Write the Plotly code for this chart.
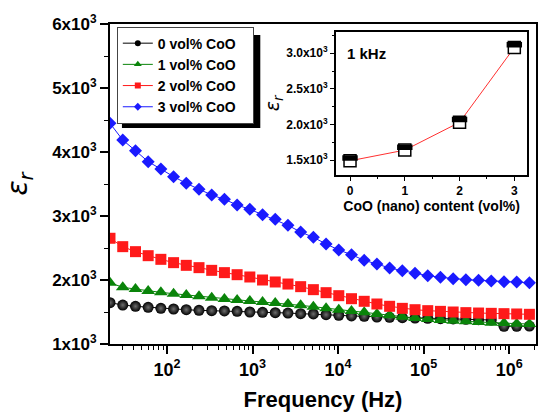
import plotly.graph_objects as go

# ---------------- data ----------------
freq_hz = [21.5, 30.3, 42.7, 60.1, 84.6, 119.1, 167.7, 236.2, 332.5, 468.2,
           659.2, 928.1, 1306.8, 1840, 2591, 3648, 5136, 7232, 10181, 14335,
           20184, 28420, 40015, 56341, 79330, 111700, 157270, 221440, 311800,
           439010, 618120, 870300, 1225400, 1725400]

eps_0 = [1646, 1609, 1589, 1573, 1557, 1547, 1536, 1526, 1521, 1516, 1510, 1500,
         1495, 1490, 1484, 1474, 1469, 1458, 1448, 1438, 1432, 1422, 1417, 1411,
         1406, 1401, 1396, 1391, 1385, 1380, 1375, 1276, 1276, 1281]
eps_1 = [1958, 1885, 1859, 1828, 1807, 1786, 1766, 1745, 1724, 1703, 1688, 1672,
         1656, 1641, 1625, 1604, 1583, 1557, 1536, 1516, 1495, 1469, 1448, 1427,
         1406, 1391, 1375, 1365, 1354, 1344, 1333, 1328, 1318, 1313]
eps_2 = [2652, 2521, 2443, 2380, 2323, 2271, 2229, 2193, 2151, 2115, 2083, 2047,
         2000, 1969, 1937, 1896, 1849, 1802, 1755, 1708, 1667, 1625, 1589, 1557,
         1536, 1521, 1510, 1500, 1490, 1484, 1479, 1474, 1469, 1464]
eps_3 = [4448, 4187, 4021, 3849, 3734, 3615, 3510, 3417, 3328, 3260, 3172, 3104,
         3021, 2948, 2854, 2750, 2667, 2563, 2469, 2396, 2307, 2250, 2188, 2146,
         2104, 2068, 2042, 2021, 2005, 1995, 1984, 1974, 1969, 1958]

series_names = ["0 vol% CoO", "1 vol% CoO", "2 vol% CoO", "3 vol% CoO"]

y_tick_vals = [1000, 2000, 3000, 4000, 5000, 6000]
y_tick_text = ["1x10<sup>3</sup>", "2x10<sup>3</sup>", "3x10<sup>3</sup>",
               "4x10<sup>3</sup>", "5x10<sup>3</sup>", "6x10<sup>3</sup>"]
x_tick_vals = [1e2, 1e3, 1e4, 1e5, 1e6]
x_tick_text = ["10<sup>2</sup>", "10<sup>3</sup>", "10<sup>4</sup>",
               "10<sup>5</sup>", "10<sup>6</sup>"]

# inset data (1 kHz)
coo_content = [0, 1, 2, 3]
eps_1khz = [1490, 1640, 2030, 3080]
inset_y_vals = [1500, 2000, 2500, 3000]
inset_y_text = ["1.5x10<sup>3</sup>", "2.0x10<sup>3</sup>",
                "2.5x10<sup>3</sup>", "3.0x10<sup>3</sup>"]

# ---------------- style ----------------
FONT = "Liberation Sans, Arial, sans-serif"
colors = ["#000000", "#0a840a", "#ff1a1a", "#1a1aff"]
symbols = ["circle", "triangle-up", "square", "diamond"]
sizes = [11, 12, 11, 10]
W, H = 541, 412
ML, MR, MT, MB = 110, 3, 24, 68
PW, PH = W - ML - MR, H - MT - MB

fig = go.Figure()

all_eps = [eps_0, eps_1, eps_2, eps_3]
for i, eps in enumerate(all_eps):
    marker = dict(symbol=symbols[i], size=sizes[i], color=colors[i],
                  line=dict(width=0))
    if i == 0:
        marker["gradient"] = dict(type="radial", color="#6e6e6e")
    fig.add_trace(go.Scatter(x=freq_hz, y=eps, mode="lines+markers",
                             line=dict(color=colors[i], width=1),
                             marker=marker, showlegend=False,
                             xaxis="x", yaxis="y"))

# legend entries with small markers
leg_sizes = [6, 7, 6, 6]
for i, name in enumerate(series_names):
    fig.add_trace(go.Scatter(x=[None], y=[None], mode="lines+markers",
                             name=name + "\u00a0\u00a0\u00a0",
                             line=dict(color=colors[i], width=1),
                             marker=dict(symbol=symbols[i], size=leg_sizes[i],
                                         color=colors[i]),
                             xaxis="x", yaxis="y"))

# ---------------- inset ----------------
ix_dom = [0.530, 0.980]
iy_dom = [0.528, 0.976]
iy_range = [1290, 3303]
fig.add_trace(go.Scatter(x=coo_content, y=eps_1khz, mode="lines",
                         line=dict(color="#ff3030", width=1),
                         showlegend=False, xaxis="x2", yaxis="y2"))
fig.add_trace(go.Scatter(x=coo_content, y=eps_1khz, mode="markers",
                         marker=dict(symbol="square", size=12, color="white",
                                     line=dict(color="black", width=1.5)),
                         showlegend=False, xaxis="x2", yaxis="y2"))
# top black half of the half-filled square markers
inset_h_px = (iy_dom[1] - iy_dom[0]) * PH
units_per_px = (iy_range[1] - iy_range[0]) / inset_h_px
half_off = 2.8 * units_per_px
fig.add_trace(go.Scatter(x=coo_content, y=[v + half_off for v in eps_1khz],
                         mode="markers",
                         marker=dict(symbol="line-ew", size=11,
                                     line=dict(color="black", width=5.6)),
                         showlegend=False, xaxis="x2", yaxis="y2"))

axis_common = dict(showline=True, linecolor="black", mirror=True,
                   ticks="outside", tickcolor="black", showgrid=False,
                   zeroline=False)

fig.update_layout(
    width=W, height=H,
    margin=dict(l=ML, r=MR, t=MT, b=MB, pad=0),
    paper_bgcolor="white", plot_bgcolor="white",
    font=dict(family=FONT, color="black"),
    xaxis=dict(type="log", range=[1.3325, 6.314], domain=[0, 1],
               tickmode="array", tickvals=x_tick_vals, ticktext=x_tick_text,
               tickfont=dict(size=18, weight="bold"),
               linewidth=2, ticklen=8, tickwidth=1.5,
               minor=dict(ticks="outside", dtick="D1", ticklen=4,
                          tickcolor="black", tickwidth=1.2),
               title=dict(text="Frequency (Hz)",
                          font=dict(size=22, weight="bold"), standoff=13),
               anchor="y", **axis_common),
    yaxis=dict(range=[1000, 6000], domain=[0, 1],
               tickmode="array", tickvals=y_tick_vals, ticktext=y_tick_text,
               tickfont=dict(size=17, weight="bold"),
               linewidth=2, ticklen=8, tickwidth=1.5,
               minor=dict(ticks="outside", dtick=500, tick0=0, ticklen=4,
                          tickcolor="black", tickwidth=1.2),
               title=dict(text="<i>ε<sub>r</sub></i>",
                          font=dict(size=28, family="DejaVu Sans, sans-serif"),
                          standoff=16),
               anchor="x", **axis_common),
    xaxis2=dict(domain=ix_dom, range=[-0.26, 3.24], anchor="y2",
                tickmode="array", tickvals=coo_content,
                tickfont=dict(size=12, weight="bold"),
                linewidth=1.5, ticklen=4, tickwidth=1,
                minor=dict(ticks="outside", dtick=0.5, tick0=0, ticklen=2,
                           tickcolor="black"),
                title=dict(text="CoO (nano) content (vol%)",
                           font=dict(size=14, weight="bold"), standoff=2),
                **axis_common),
    yaxis2=dict(domain=iy_dom, range=iy_range, anchor="x2",
                tickmode="array", tickvals=inset_y_vals, ticktext=inset_y_text,
                tickfont=dict(size=12, weight="bold"),
                linewidth=1.5, ticklen=4, tickwidth=1,
                minor=dict(ticks="outside", dtick=250, tick0=0, ticklen=2,
                           tickcolor="black"),
                title=dict(text="<i>ε<sub>r</sub></i>",
                           font=dict(size=19, family="DejaVu Sans, sans-serif"),
                           standoff=2),
                **axis_common),
    legend=dict(x=0.016, y=0.992, xanchor="left", yanchor="top",
                bgcolor="white", bordercolor="#444", borderwidth=1,
                font=dict(size=14, weight="bold"), itemwidth=30,
                tracegroupgap=0),
    annotations=[dict(text="<b>1 kHz</b>", x=-0.1, y=3000, xref="x2",
                      yref="y2", xanchor="left", yanchor="middle",
                      showarrow=False, font=dict(size=15))],
    shapes=[dict(type="rect", xref="paper", yref="paper",
                 x0=(122 - ML) / PW, x1=(261 - ML) / PW,
                 y0=(H - MB - 128) / PH,
                 y1=(H - MB - 35) / PH,
                 fillcolor="black", line=dict(width=0), layer="above")],
)

fig.write_html("out.html")
